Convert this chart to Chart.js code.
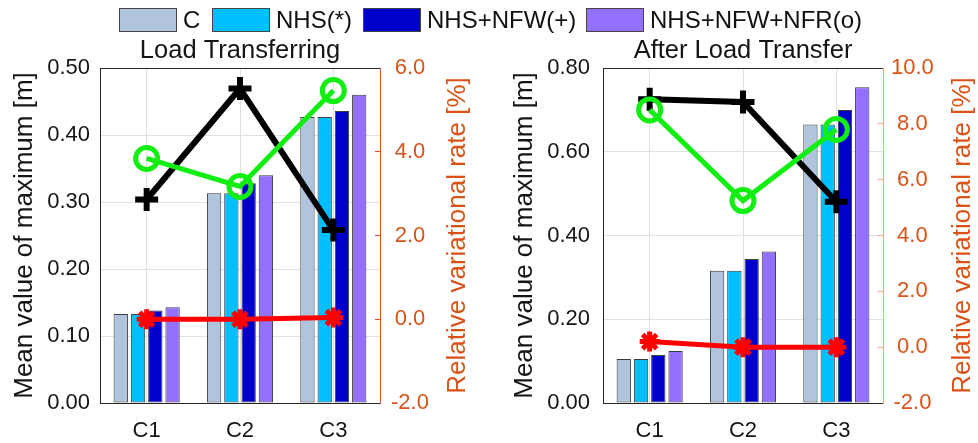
<!DOCTYPE html>
<html>
<head>
<meta charset="utf-8">
<script src="https://cdn.jsdelivr.net/npm/chart.js@4.4.1/dist/chart.umd.min.js"></script>
<style>
  html, body { margin: 0; padding: 0; background: #fff; }
  #fig { position: relative; width: 978px; height: 443px; font-family: "Liberation Sans", Arial, sans-serif; overflow: hidden; }
  .pane { position: absolute; top: 0; width: 489px; height: 443px; }
  #legend { position: absolute; top: 0; left: 0; width: 978px; height: 40px; z-index: 2; }
  .key { position: absolute; top: 8px; height: 24px; display: flex; align-items: center; font-size: 24px; color: #111; white-space: nowrap; }
  .swatch { width: 56px; height: 22px; border: 1px solid #444; margin-right: 6px; flex: none; }
</style>
</head>
<body>
<div id="fig">
  <div id="legend"></div>
  <div class="pane" style="left:0"><canvas id="left" width="489" height="443"></canvas></div>
  <div class="pane" style="left:489px"><canvas id="right" width="489" height="443"></canvas></div>
</div>
<script>
// ---- data ----
const categories = ['C1', 'C2', 'C3'];
const seriesNames = ['C', 'NHS(*)', 'NHS+NFW(+)', 'NHS+NFW+NFR(o)'];

// Load Transferring: mean of maximum [m]
const transferringC      = [0.133, 0.313, 0.427];
const transferringNHS    = [0.133, 0.313, 0.427];
const transferringNFW    = [0.138, 0.328, 0.436];
const transferringNFR    = [0.143, 0.340, 0.460];
// Load Transferring: relative variational rate [%]
const transferringRateNHS = [0.00, 0.00, 0.04];
const transferringRateNFW = [2.86, 5.51, 2.13];
const transferringRateNFR = [3.84, 3.17, 5.46];

// After Load Transfer: mean of maximum [m]
const afterC      = [0.105, 0.316, 0.665];
const afterNHS    = [0.105, 0.316, 0.665];
const afterNFW    = [0.1146, 0.344, 0.700];
const afterNFR    = [0.124, 0.362, 0.754];
// After Load Transfer: relative variational rate [%]
const afterRateNHS = [0.20, 0.00, 0.00];
const afterRateNFW = [8.88, 8.78, 5.21];
const afterRateNFR = [8.50, 5.25, 7.80];

// axis ranges and tick steps
const transferringMeanTicks = { min: 0, max: 0.5, step: 0.1 };
const transferringRateTicks = { min: -2, max: 6, step: 2 };
const afterMeanTicks = { min: 0, max: 0.8, step: 0.2 };
const afterRateTicks = { min: -2, max: 10, step: 2 };

// ---- styling ----
const FONT = '"Liberation Sans", Arial, sans-serif';
const barColors = ['#B0C4DE', '#00BFFF', '#0000CD', '#9370FF'];
const ORANGE = '#D95319';
const TEXT = '#151515';
const GRID = '#e0e0e0';

// legend
const legendLefts = [119, 212, 363, 586];
const legendEl = document.getElementById('legend');
seriesNames.forEach((name, i) => {
  const key = document.createElement('div');
  key.className = 'key';
  key.style.left = legendLefts[i] + 'px';
  const sw = document.createElement('span');
  sw.className = 'swatch';
  sw.style.background = barColors[i];
  key.appendChild(sw);
  key.appendChild(document.createTextNode(name));
  legendEl.appendChild(key);
});

// frame edge along the top of the plot, plus title and axis captions
const captionPlugin = {
  id: 'captions',
  beforeDatasetsDraw(chart, args, opts) {
    const { ctx, chartArea: a } = chart;
    ctx.save();
    ctx.strokeStyle = '#262626';
    ctx.lineWidth = 1;
    ctx.beginPath();
    ctx.moveTo(a.left, a.top + 0.5);
    ctx.lineTo(a.right, a.top + 0.5);
    ctx.stroke();
    ctx.restore();
  },
  afterDraw(chart, args, opts) {
    const { ctx, chartArea: a } = chart;
    const midY = (a.top + a.bottom) / 2;
    ctx.save();
    ctx.fillStyle = TEXT;
    ctx.font = '25.5px ' + FONT;
    ctx.textAlign = 'center';
    ctx.textBaseline = 'alphabetic';
    ctx.fillText(opts.title, (a.left + a.right) / 2, a.top - 10);

    ctx.font = '26px ' + FONT;
    ctx.textBaseline = 'middle';
    ctx.save();
    ctx.translate(a.left - opts.leftGap, midY);
    ctx.rotate(-Math.PI / 2);
    ctx.fillText(opts.leftText, 0, 0);
    ctx.restore();

    ctx.fillStyle = ORANGE;
    ctx.save();
    ctx.translate(a.right + opts.rightGap, midY);
    ctx.rotate(-Math.PI / 2);
    ctx.fillText(opts.rightText, 0, 0);
    ctx.restore();
    ctx.restore();
  }
};

function buildChart(canvasId, bars, rates, meanTicks, rateTicks, cfg) {
  const barSets = bars.map((vals, i) => ({
    type: 'bar',
    label: seriesNames[i],
    data: vals,
    yAxisID: 'y',
    backgroundColor: barColors[i],
    borderColor: '#3a3a3a',
    borderWidth: 1,
    borderSkipped: false,
    categoryPercentage: 0.74,
    barPercentage: 0.83,
    order: 10
  }));
  const lineSets = [
    { data: rates[0], color: '#ff0000', style: 'star', radius: 10, width: 5, order: 0 },
    { data: rates[2], color: '#12ee12', style: 'circle', radius: 11, width: 5, order: 1 },
    { data: rates[1], color: '#000000', style: 'cross', radius: 11.5, width: 6, order: 2 }
  ].map(s => ({
    type: 'line',
    data: s.data,
    yAxisID: 'y2',
    borderColor: s.color,
    borderWidth: s.width,
    pointStyle: s.style,
    pointRadius: s.radius,
    pointHoverRadius: s.radius,
    pointBorderWidth: s.width,
    pointBorderColor: s.color,
    pointBackgroundColor: s.style === 'circle' ? 'rgba(0,0,0,0)' : s.color,
    fill: false,
    tension: 0,
    clip: false,
    order: s.order
  }));

  return new Chart(document.getElementById(canvasId), {
    type: 'bar',
    data: { labels: categories, datasets: [...lineSets, ...barSets] },
    plugins: [captionPlugin],
    options: {
      responsive: false,
      animation: false,
      devicePixelRatio: 1,
      layout: { padding: { top: 68, left: 0, right: 0, bottom: 0 } },
      plugins: {
        legend: { display: false },
        tooltip: { enabled: false },
        captions: {
          title: cfg.title,
          leftText: 'Mean value of maximum [m]',
          rightText: 'Relative variational rate [%]',
          leftGap: cfg.leftGap,
          rightGap: cfg.rightGap
        }
      },
      scales: {
        x: {
          type: 'category',
          offset: true,
          afterFit: s => { s.height = 40; },
          grid: { offset: false, color: GRID, drawTicks: false },
          border: { color: '#262626', width: 1 },
          ticks: { color: TEXT, font: { family: FONT, size: 22 }, padding: 15 }
        },
        y: {
          position: 'left',
          min: meanTicks.min,
          max: meanTicks.max,
          afterFit: s => { s.width = cfg.leftWidth; },
          grid: { color: GRID, drawTicks: false },
          border: { color: '#262626', width: 1 },
          ticks: {
            stepSize: meanTicks.step,
            color: TEXT,
            font: { family: FONT, size: 22 },
            padding: cfg.leftPad,
            callback: v => Number(v).toFixed(2)
          }
        },
        y2: {
          position: 'right',
          min: rateTicks.min,
          max: rateTicks.max,
          afterFit: s => { s.width = cfg.rightWidth; },
          // short tick marks pointing into the plot
          grid: { drawOnChartArea: false, drawTicks: true, tickLength: -5, tickColor: cfg.rightBorder },
          border: { color: cfg.rightBorder, width: 1 },
          ticks: {
            stepSize: rateTicks.step,
            color: ORANGE,
            font: { family: FONT, size: 22 },
            padding: cfg.rightPad + 5,
            crossAlign: 'center',
            callback: v => Number(v).toFixed(1)
          }
        }
      }
    }
  });
}

buildChart('left',
  [transferringC, transferringNHS, transferringNFW, transferringNFR],
  [transferringRateNHS, transferringRateNFW, transferringRateNFR],
  transferringMeanTicks, transferringRateTicks,
  { title: 'Load Transferring', leftWidth: 100, rightWidth: 109, leftPad: 10, rightPad: 11,
    rightBorder: ORANGE, leftGap: 75, rightGap: 78 });

buildChart('right',
  [afterC, afterNHS, afterNFW, afterNFR],
  [afterRateNHS, afterRateNFW, afterRateNFR],
  afterMeanTicks, afterRateTicks,
  { title: 'After Load Transfer', leftWidth: 114, rightWidth: 95, leftPad: 13, rightPad: 8,
    rightBorder: '#F0A583', leftGap: 78, rightGap: 80 });
</script>
</body>
</html>
